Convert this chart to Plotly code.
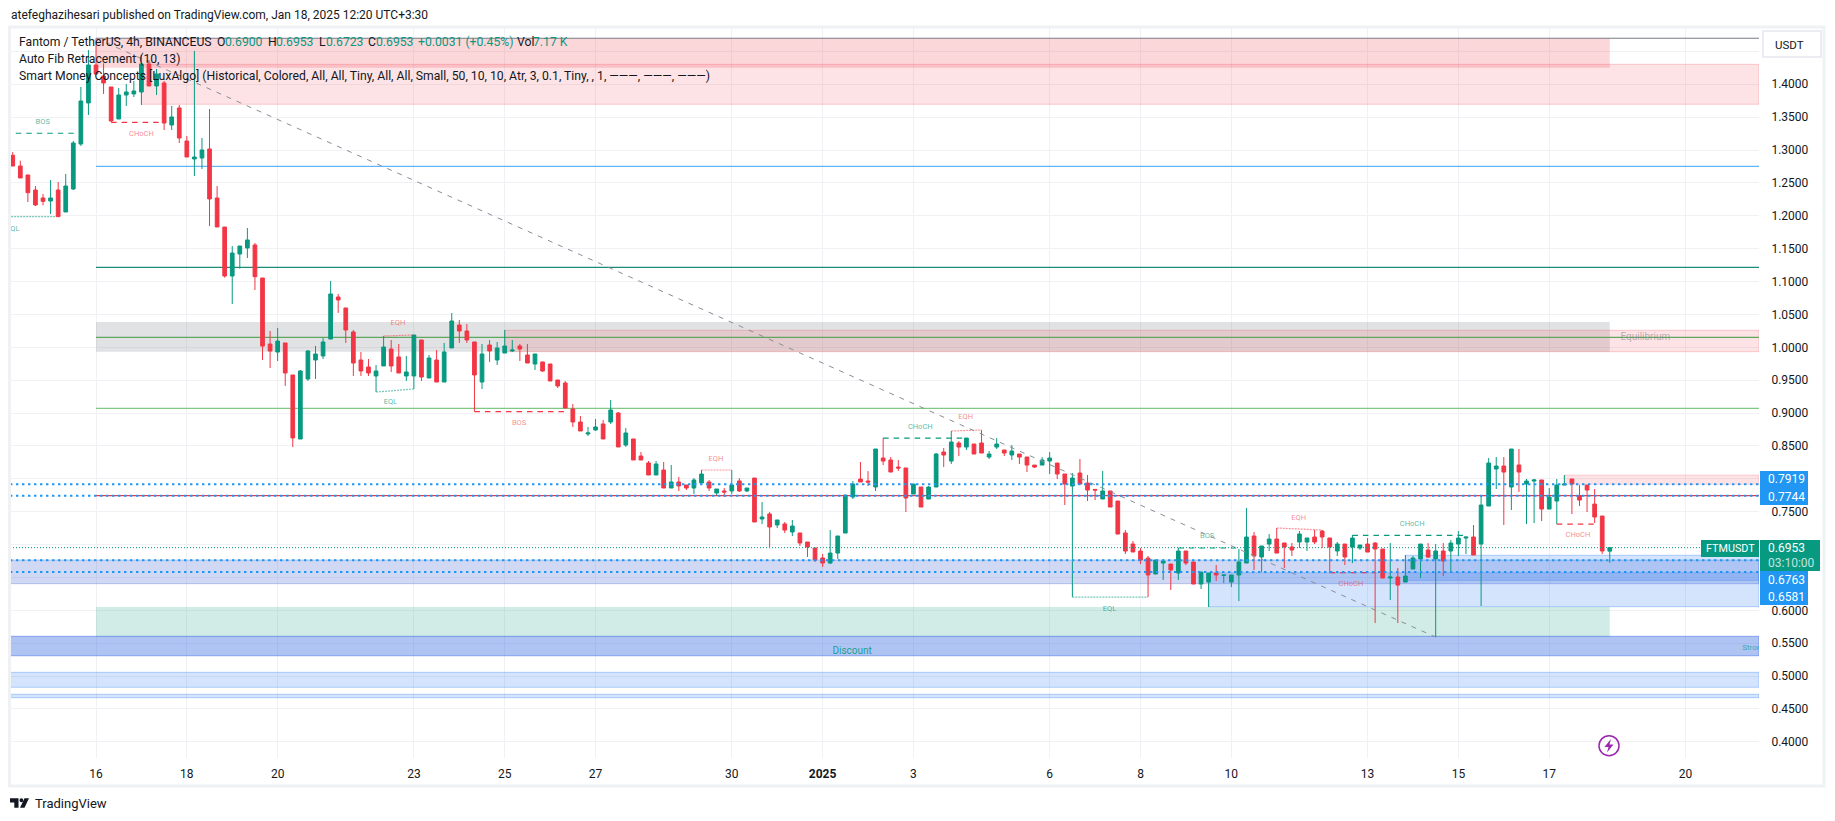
import pandas as pd
import plotly.graph_objects as go

# ---------- data ----------
first_bar = "2024-12-14 04:00"
bar_hours = 4
opens = [
1.2920,1.2757,1.2621,1.2392,1.2271,1.2225,1.2392,1.2058,1.2408,1.3092,
1.3716,1.4294,1.4126,1.3959,1.3472,1.3837,1.3853,1.3883,1.4309,1.3974,
1.4020,1.3381,1.3640,1.3138,1.2864,1.2879,1.3016,1.2271,1.1829,1.1084,
1.1419,1.1510,1.1556,1.1054,1.0050,0.9928,1.0066,0.9579,0.8605,0.9518,
0.9807,0.9868,1.0126,1.0765,1.0598,1.0233,0.9807,0.9700,0.9564,0.9716,
0.9974,0.9853,0.9564,0.9564,1.0111,0.9533,0.9807,0.9472,0.9990,1.0339,
1.0248,1.0081,0.9472,1.0035,0.9807,0.9913,0.9944,1.0020,0.9883,0.9746,
0.9777,0.9746,0.9503,0.9457,0.9062,0.8864,0.8682,0.8743,0.8834,0.8864,
0.9001,0.8514,0.8606,0.8347,0.8241,0.8058,0.8134,0.7860,0.7952,0.7906,
0.7860,0.7936,0.7952,0.7784,0.7815,0.7815,0.7967,0.7815,0.8012,0.7389,
0.7465,0.7298,0.7313,0.7191,0.7176,0.7039,0.6948,0.6796,0.6719,0.6871,
0.7175,0.7723,0.7996,0.7966,0.7875,0.8316,0.8286,0.8179,0.8164,0.7768,
0.7875,0.7692,0.7875,0.8407,0.8270,0.8544,0.8483,0.8529,0.8544,0.8331,
0.8483,0.8438,0.8362,0.8377,0.8331,0.8209,0.8209,0.8270,0.8240,0.8073,
0.7890,0.8088,0.7936,0.7839,0.7693,0.7815,0.7662,0.7176,0.7008,0.6902,
0.6795,0.6552,0.6719,0.6704,0.6567,0.6902,0.6735,0.6400,0.6430,0.6567,
0.6532,0.6430,0.6537,0.6719,0.7130,0.6811,0.7008,0.7084,0.7024,0.6963,
0.7039,0.7039,0.7115,0.7206,0.7100,0.6902,0.7008,0.6962,0.6947,0.7008,
0.7023,0.6932,0.6491,0.6506,0.6430,0.6628,0.6780,0.6917,0.6780,0.6902,
0.6902,0.7008,0.7099,0.7115,0.7008,0.7586,0.8149,0.8194,0.7875,0.8210,
0.7921,0.7966,0.7982,0.7540,0.7662,0.7905,0.7997,0.7738,0.7905,0.7616,0.7434,0.6900]
closes = [
1.2757,1.2575,1.2352,1.2164,1.2220,1.2271,1.1987,1.2453,1.3107,1.3746,
1.4294,1.4157,1.4020,1.3442,1.3837,1.3883,1.3898,1.4309,1.3974,1.4157,
1.3411,1.3503,1.3183,1.2894,1.2894,1.3001,1.2256,1.1830,1.1084,1.1434,
1.1540,1.1632,1.1074,1.0019,0.9943,1.0095,0.9609,0.8621,0.9640,0.9944,
0.9898,1.0081,1.0811,1.0720,1.0263,0.9761,0.9640,0.9609,0.9640,1.0005,
0.9716,0.9609,0.9625,1.0187,0.9548,0.9837,0.9472,0.9929,1.0400,1.0248,
1.0111,0.9579,0.9898,0.9944,0.9990,1.0020,0.9959,0.9974,0.9761,0.9898,
0.9640,0.9488,0.9412,0.9077,0.8864,0.8727,0.8697,0.8788,0.8606,0.9047,
0.8484,0.8697,0.8286,0.8286,0.8058,0.8225,0.7860,0.7952,0.7891,0.7860,
0.7982,0.8073,0.7860,0.7845,0.7799,0.7906,0.7815,0.7860,0.7343,0.7419,
0.7267,0.7374,0.7221,0.7282,0.7024,0.6963,0.6765,0.6720,0.6871,0.7130,
0.7753,0.7920,0.7951,0.7951,0.8453,0.8270,0.8103,0.8164,0.7708,0.7920,
0.7571,0.7875,0.8377,0.8362,0.8559,0.8483,0.8620,0.8377,0.8392,0.8377,
0.8529,0.8392,0.8422,0.8331,0.8209,0.8179,0.8286,0.8316,0.8073,0.7920,
0.8012,0.7920,0.7829,0.7829,0.7815,0.7571,0.7160,0.6902,0.6887,0.6765,
0.6537,0.6765,0.6750,0.6613,0.6902,0.6719,0.6400,0.6582,0.6567,0.6537,
0.6537,0.6537,0.6735,0.7115,0.6826,0.6978,0.7084,0.6871,0.6963,0.6917,
0.7160,0.7100,0.7039,0.7115,0.6963,0.7008,0.6811,0.7099,0.6993,0.6886,
0.6932,0.6491,0.6506,0.6384,0.6521,0.6795,0.7008,0.6810,0.6902,0.6750,
0.7023,0.7099,0.7115,0.6841,0.7601,0.8240,0.8194,0.8103,0.8453,0.8103,
0.7966,0.7982,0.7540,0.7723,0.7905,0.7921,0.7921,0.7677,0.7829,0.7419,0.6902,0.6953]
highs = [
1.2970,1.2839,1.2621,1.2453,1.2332,1.2544,1.2514,1.2636,1.3138,1.3959,
1.4522,1.4699,1.4319,1.3959,1.3944,1.4005,1.4050,1.4446,1.4370,1.4233,
1.4050,1.3670,1.3685,1.3214,1.4507,1.3183,1.3624,1.2453,1.1829,1.1540,
1.1540,1.1814,1.1586,1.1054,1.0248,1.0293,1.0066,0.9579,0.9655,0.9959,
1.0020,1.0142,1.1009,1.0811,1.0598,1.0263,0.9929,0.9822,0.9731,1.0172,
1.0111,1.0050,0.9868,1.0187,1.0111,0.9883,0.9959,1.0066,1.0522,1.0415,
1.0355,1.0081,1.0050,1.0111,1.0081,1.0263,1.0111,1.0050,1.0050,0.9898,
0.9777,0.9746,0.9503,0.9488,0.9138,0.8955,0.8788,0.8910,0.8895,0.9199,
0.9016,0.8773,0.8606,0.8408,0.8271,0.8271,0.8256,0.8210,0.8028,0.7906,
0.8012,0.8134,0.7982,0.7845,0.7860,0.8134,0.8012,0.7860,0.8012,0.7647,
0.7495,0.7374,0.7343,0.7374,0.7176,0.7039,0.6948,0.6857,0.7221,0.7130,
0.7753,0.7966,0.8255,0.8118,0.8453,0.8620,0.8331,0.8286,0.8164,0.7920,
0.7875,0.7890,0.8392,0.8468,0.8727,0.8574,0.8620,0.8529,0.8742,0.8422,
0.8620,0.8438,0.8514,0.8377,0.8331,0.8209,0.8331,0.8407,0.8240,0.8073,
0.8088,0.8301,0.8057,0.7839,0.8119,0.7815,0.7662,0.7221,0.7054,0.6948,
0.6826,0.6765,0.6780,0.6704,0.6948,0.6902,0.6735,0.6582,0.6567,0.6689,
0.6537,0.6537,0.6932,0.7556,0.7191,0.6978,0.7160,0.7252,0.7024,0.7024,
0.7206,0.7100,0.7221,0.7221,0.7100,0.7039,0.7008,0.7145,0.6993,0.7099,
0.7038,0.6932,0.7023,0.6643,0.6841,0.6826,0.7008,0.7023,0.7008,0.7023,
0.7069,0.7206,0.7115,0.7297,0.7753,0.8316,0.8331,0.8331,0.8453,0.8453,
0.7997,0.7997,0.7982,0.7860,0.7997,0.8058,0.7997,0.7905,0.7905,0.7845,0.7434,0.6953]
lows = [
1.2757,1.2575,1.2210,1.2149,1.2159,1.2027,1.1987,1.2058,1.2392,1.3062,
1.3533,1.4142,1.3853,1.3427,1.3472,1.3670,1.3807,1.3685,1.3974,1.3837,
1.3305,1.3305,1.3107,1.2894,1.2605,1.2712,1.1845,1.1830,1.1059,1.0658,
1.1196,1.1358,1.0871,0.9806,0.9685,0.9791,0.9412,0.8484,0.8605,0.9488,
0.9518,0.9822,1.0126,1.0522,1.0066,0.9564,0.9564,0.9564,0.9320,0.9716,
0.9625,0.9609,0.9488,0.9366,0.9488,0.9533,0.9472,0.9472,0.9990,1.0066,
1.0066,0.9021,0.9366,0.9777,0.9731,0.9913,0.9929,0.9792,0.9761,0.9655,
0.9625,0.9488,0.9381,0.9077,0.8788,0.8727,0.8651,0.8727,0.8606,0.8834,
0.8484,0.8484,0.8286,0.8286,0.8058,0.8058,0.7860,0.7860,0.7815,0.7830,
0.7769,0.7936,0.7815,0.7754,0.7723,0.7769,0.7799,0.7799,0.7343,0.7313,
0.6963,0.7252,0.7176,0.7130,0.6978,0.6811,0.6735,0.6659,0.6704,0.6780,
0.7175,0.7692,0.7951,0.7890,0.7814,0.8209,0.8103,0.8118,0.7495,0.7768,
0.7571,0.7692,0.7875,0.8179,0.8225,0.8346,0.8438,0.8377,0.8392,0.8301,
0.8453,0.8346,0.8286,0.8225,0.8103,0.8164,0.8209,0.8073,0.7996,0.7601,
0.6202,0.7920,0.7662,0.7677,0.7693,0.7571,0.7160,0.6856,0.6887,0.6704,
0.6202,0.6552,0.6461,0.6309,0.6461,0.6689,0.6400,0.6324,0.6050,0.6446,
0.6415,0.6354,0.6141,0.6719,0.6613,0.6582,0.6902,0.6871,0.6643,0.6826,
0.6948,0.6902,0.7008,0.6948,0.6567,0.6826,0.6689,0.6719,0.6917,0.6886,
0.5806,0.6491,0.6156,0.5806,0.6430,0.6628,0.6491,0.6795,0.5593,0.6521,
0.6582,0.6826,0.6856,0.6841,0.6065,0.7586,0.7845,0.7297,0.7525,0.7799,
0.7312,0.7327,0.7358,0.7540,0.7312,0.7905,0.7464,0.7586,0.7495,0.7327,0.6856,0.6723]

tick_dates = ["2024-12-16","2024-12-18","2024-12-20","2024-12-23","2024-12-25","2024-12-27","2024-12-30",
              "2025-01-01","2025-01-03","2025-01-06","2025-01-08","2025-01-10","2025-01-13","2025-01-15",
              "2025-01-17","2025-01-20"]
tick_labels = ["16","18","20","23","25","27","30","<b>2025</b>","3","6","8","10","13","15","17","20"]
price_ticks = [1.45,1.40,1.35,1.30,1.25,1.20,1.15,1.10,1.05,1.00,0.95,0.90,0.85,0.80,0.75,0.70,0.65,0.60,0.55,0.50,0.45,0.40]
price_tick_labels = ["","1.4000","1.3500","1.3000","1.2500","1.2000","1.1500","1.1000","1.0500","1.0000","0.9500","0.9000",
                     "0.8500","","0.7500","","","0.6000","0.5500","0.5000","0.4500","0.4000"]

# zones: start, end, price top, price bottom, fill, border
axis_start = "2024-12-14 02:33"
axis_end = "2025-01-21 14:52"
last_bar = "2025-01-18 08:00"
zones = [
 ("2024-12-16", last_bar, 1.4700, 1.4252, "rgba(242,54,69,0.20)", "rgba(0,0,0,0)"),
 ("2024-12-17", axis_end, 1.4304, 1.3696, "rgba(242,54,69,0.14)", "rgba(242,54,69,0.22)"),
 ("2024-12-16", last_bar, 1.0385, 0.9933, "rgba(120,123,134,0.22)", "rgba(0,0,0,0)"),
 ("2024-12-25", axis_end, 1.0259, 0.9933, "rgba(242,54,69,0.14)", "rgba(242,54,69,0.22)"),
 (axis_start, axis_end, 0.6765, 0.6405, "rgba(33,70,200,0.21)", "rgba(33,70,200,0.25)"),
 ("2025-01-09 12:00", axis_end, 0.6572, 0.6055, "rgba(41,120,245,0.20)", "rgba(41,120,245,0.32)"),
 ("2025-01-13 20:00", axis_end, 0.6837, 0.6456, "rgba(41,120,245,0.20)", "rgba(41,120,245,0.32)"),
 ("2024-12-16", last_bar, 0.6050, 0.5599, "rgba(8,153,129,0.19)", "rgba(0,0,0,0)"),
 (axis_start, axis_end, 0.5605, 0.5309, "rgba(41,95,225,0.37)", "rgba(41,95,225,0.45)"),
 (axis_start, axis_end, 0.5057, 0.4829, "rgba(41,120,245,0.20)", "rgba(41,120,245,0.32)"),
 (axis_start, axis_end, 0.4723, 0.4671, "rgba(41,120,245,0.20)", "rgba(41,120,245,0.32)"),
 ("2025-01-17 08:00", axis_end, 0.8058, 0.7916, "rgba(242,54,69,0.14)", "rgba(242,54,69,0.18)"),
]
# horizontal levels: price, colour
fib_levels = [(1.4700,"#787B86"),(1.2753,"#64B5F6"),(1.1217,"#1B8B77"),(1.0152,"#5FA75F"),(0.9072,"#81C784"),(0.7743,"#F23645")]
# dotted position lines and current price
blue_prices = [0.7919,0.7744,0.6763,0.6581]
current_price = 0.6953
green = "#089981"; red = "#F23645"
# structure lines: first bar no., last bar no., price start, price end, colour, dash
structure = [
 (0.4,8.7,1.3255,1.3255,green,"5.5px,5px"),
 (-1,5.7,1.1987,1.1987,"rgba(8,153,129,.55)","2px,1px"),
 (13,20,1.3422,1.3422,red,"5.5px,5px"),
 (49,53,1.0172,1.0187,"rgba(242,54,69,.55)","2px,1px"),
 (48,53,0.9320,0.9366,"rgba(8,153,129,.55)","2px,1px"),
 (61,73.2,0.9021,0.9021,red,"5.5px,5px"),
 (91,95,0.8134,0.8134,"rgba(242,54,69,.55)","2px,1px"),
 (115,126,0.8620,0.8620,green,"5.5px,5px"),
 (124,128,0.8727,0.8742,"rgba(242,54,69,.55)","2px,1px"),
 (140,150,0.6202,0.6202,"rgba(8,153,129,.55)","2px,1px"),
 (154,162,0.6948,0.6948,green,"5.5px,5px"),
 (167,173,0.7252,0.7221,"rgba(242,54,69,.55)","2px,1px"),
 (174,180,0.6572,0.6572,red,"5.5px,5px"),
 (177,192,0.7141,0.7141,green,"5.5px,5px"),
 (204,209,0.7312,0.7312,red,"5.5px,5px"),
]
g_lab="rgba(8,153,129,.70)"; r_lab="rgba(242,54,69,.60)"
label_text = ["BOS","EQL","CHoCH","EQH","EQL","BOS","EQH","CHoCH","EQH","EQL","BOS","EQH","CHoCH","CHoCH","CHoCH","Discount","Equilibrium"]
label_bar = [3.96,0,17,50.9,49.9,66.9,92.9,119.9,125.9,144.9,157.8,169.9,176.8,184.9,206.8,110.9,215.7]
label_price = [1.3431,1.1804,1.3240,1.0374,0.9173,0.8844,0.8306,0.8793,0.8935,0.6015,0.7126,0.7408,0.6395,0.7317,0.7141,0.5370,1.0146]
label_colour = [g_lab,g_lab,r_lab,r_lab,g_lab,r_lab,r_lab,g_lab,r_lab,g_lab,g_lab,r_lab,r_lab,g_lab,r_lab,"rgba(8,153,129,.9)","rgba(120,123,134,.55)"]
label_size = [7.5]*15+[10,10]

FONT = "Roboto"
X0, X1, Y0, Y1 = 10, 1759, 28, 758
W, H = 1835, 821
def fx(p): return (p-X0)/(X1-X0)
def fy(p): return 1-(p-Y0)/(Y1-Y0)
start = pd.Timestamp(first_bar)
def bar_time(k): return start + pd.Timedelta(hours=bar_hours*k)
times = [bar_time(k) for k in range(len(opens))]

fig = go.Figure()
fig.add_trace(go.Candlestick(
    x=times, open=opens, high=highs, low=lows, close=closes,
    increasing=dict(line=dict(color=green,width=1),fillcolor=green),
    decreasing=dict(line=dict(color=red,width=1),fillcolor=red),
    whiskerwidth=0, showlegend=False, hoverinfo="skip"))
for k0,k1,p0,p1,c,d in structure:
    fig.add_trace(go.Scatter(x=[bar_time(k0),bar_time(k1)],y=[p0,p1],mode="lines",
        line=dict(color=c,width=1.2,dash=d),showlegend=False,hoverinfo="skip"))
fig.add_trace(go.Scatter(x=[bar_time(k) for k in label_bar],y=label_price,mode="text",text=label_text,
    textfont=dict(color=label_colour,size=label_size,family=FONT),cliponaxis=True,showlegend=False,hoverinfo="skip"))
fig.add_trace(go.Scatter(x=[bar_time(228.5)],y=[0.5422],mode="text",text=["Strong Low"],textposition="middle right",
    textfont=dict(color="rgba(8,153,129,.7)",size=8,family=FONT),cliponaxis=True,showlegend=False,hoverinfo="skip"))
fig.add_trace(go.Scatter(x=[bar_time(228.5)],y=[1.4900],mode="text",text=["Weak High"],textposition="middle right",
    textfont=dict(color="rgba(242,54,69,.6)",size=8,family=FONT),cliponaxis=True,showlegend=False,hoverinfo="skip"))

shapes = []
for a,b,t,u,f,l in zones:
    shapes.append(dict(type="rect",xref="x",yref="y",x0=a,x1=b,y0=u,y1=t,fillcolor=f,
                       line=dict(color=l,width=1),layer="between"))
for p,c in fib_levels:
    shapes.append(dict(type="line",xref="x",yref="y",x0="2024-12-16",x1=axis_end,y0=p,y1=p,line=dict(color=c,width=1.2),layer="between"))
shapes.append(dict(type="line",xref="x",yref="y",x0="2024-12-16",x1=bar_time(188),y0=1.47,y1=0.5593,
                   line=dict(color="#8A8D96",width=1,dash="5px,6px"),layer="above"))
for p in blue_prices:
    shapes.append(dict(type="line",xref="x",yref="y",x0=axis_start,x1=axis_end,y0=p,y1=p,
                       line=dict(color="#2196F3",width=2,dash="2.4px,3.6px"),layer="above"))
shapes.append(dict(type="line",xref="x",yref="y",x0=axis_start,x1=axis_end,y0=current_price,y1=current_price,
                   line=dict(color=green,width=1,dash="1px,2px"),layer="above"))

def box(x0,x1,y0,y1,fill,line=None,lw=0):
    shapes.append(dict(type="rect",xref="paper",yref="paper",x0=fx(x0),x1=fx(x1),y0=fy(y1),y1=fy(y0),
                       fillcolor=fill,line=dict(color=line or fill,width=lw),layer="above"))
# frame
shapes.append(dict(type="rect",xref="paper",yref="paper",x0=fx(9.5),x1=fx(1824),y0=fy(786),y1=fy(27),
                   line=dict(color="#F0F1F5",width=3),layer="above"))
# price-scale labels
box(1760,1808,471,505,"#2196F3")
box(1760,1808,571,605,"#2196F3")
box(1760,1820,540,571,green)
box(1701,1759,540,557,green)
box(1763,1821,31,57,"#FFFFFF","#E6E8EF",1.5)
# lightning badge
shapes.append(dict(type="circle",xref="paper",yref="paper",x0=fx(1599),x1=fx(1619),y0=fy(755.7),y1=fy(735.7),
                   line=dict(color="#9C27B0",width=1.5),layer="above"))
def poly(pts,fill):
    d="M"+" L".join(f"{fx(a):.5f},{fy(b):.5f}" for a,b in pts)+" Z"
    shapes.append(dict(type="path",xref="paper",yref="paper",path=d,fillcolor=fill,line=dict(color=fill,width=0),layer="above"))
poly([(1611,739),(1604.5,747),(1608.5,747),(1607,752.5),(1613.5,744.5),(1609.5,744.5)],"#9C27B0")
# TradingView logo
poly([(10,798.3),(18.5,798.3),(18.5,807.7),(14.3,807.7),(14.3,802.5),(10,802.5)],"#131722")
poly([(24.5,798.3),(29,798.3),(24.5,807.7),(20,807.7)],"#131722")
shapes.append(dict(type="circle",xref="paper",yref="paper",x0=fx(19.5),x1=fx(23.3),y0=fy(802.2),y1=fy(798.3),
                   fillcolor="#131722",line=dict(width=0),layer="above"))

ann = []
def text(s,x,y,size=12.2,color="#131722",anchor="left"):
    ann.append(dict(text=s,xref="paper",yref="paper",x=fx(x-1.5 if anchor=="left" else x),y=fy(y),xanchor=anchor,yanchor="middle",showarrow=False,
                    font=dict(family=FONT,size=size,color=color),align=anchor))
text("atefeghazihesari published on TradingView.com, Jan 18, 2025 12:20 UTC+3:30",10,15,12)
for s,x,c in [("Fantom / TetherUS, 4h, BINANCEUS",18,"#131722"),("O",216,"#131722"),("0.6900",224,green),("H",267,"#131722"),
              ("0.6953",275,green),("L",318,"#131722"),("0.6723",325,green),("C",367,"#131722"),("0.6953",375,green),
              ("+0.0031 (+0.45%)",417.5,green),("Vol",516.4,"#131722"),("7.17 K",532.6,green)]:
    text(s,x,41.7,12.2,c)
text("Auto Fib Retracement (10, 13)",18,59)
text("Smart Money Concepts [LuxAlgo] (Historical, Colored, All, All, Tiny, All, All, Small, 50, 10, 10, Atr, 3, 0.1, Tiny, , 1, ———, ———, ———)",18,76)
for s,y in [("0.7919",479.3),("0.7744",496.7),("0.6763",579.7),("0.6581",596.7),("0.6953",548.3)]:
    text(s,1767.8,y,12,"#FFFFFF")
text("03:10:00",1767.8,562.7,12,"rgba(255,255,255,.75)")
text("FTMUSDT",1705,548.3,10.8,"#FFFFFF")
text("USDT",1789,44.7,11.5,"#131722","center")
text("TradingView",34,803,13,"#131722")

fig.update_layout(
    width=W,height=H,autosize=False,margin=dict(l=X0,r=W-X1,t=Y0,b=H-Y1,pad=0),
    paper_bgcolor="#FFFFFF",plot_bgcolor="#FFFFFF",font=dict(family=FONT,color="#131722",size=12),
    showlegend=False,shapes=shapes,annotations=ann,hovermode=False,
    xaxis=dict(type="date",range=[axis_start,axis_end],rangeslider=dict(visible=False),tickmode="array",
               tickvals=tick_dates,ticktext=tick_labels,tickangle=0,showgrid=True,gridcolor="#F0F1F4",gridwidth=1,
               ticks="outside",ticklen=5,tickcolor="rgba(0,0,0,0)",zeroline=False,showline=False,tickfont=dict(size=12)),
    yaxis=dict(side="right",range=[0.3754,1.4856],tickmode="array",tickvals=price_ticks,ticktext=price_tick_labels,
               showgrid=True,gridcolor="#F0F1F4",gridwidth=1,ticks="outside",ticklen=9,tickcolor="rgba(0,0,0,0)",
               zeroline=False,showline=False,tickfont=dict(size=12)),
)
fig.write_html("out.html",config={"displayModeBar":False},
               post_script="document.body.style.margin='0';document.body.style.overflow='hidden';")
